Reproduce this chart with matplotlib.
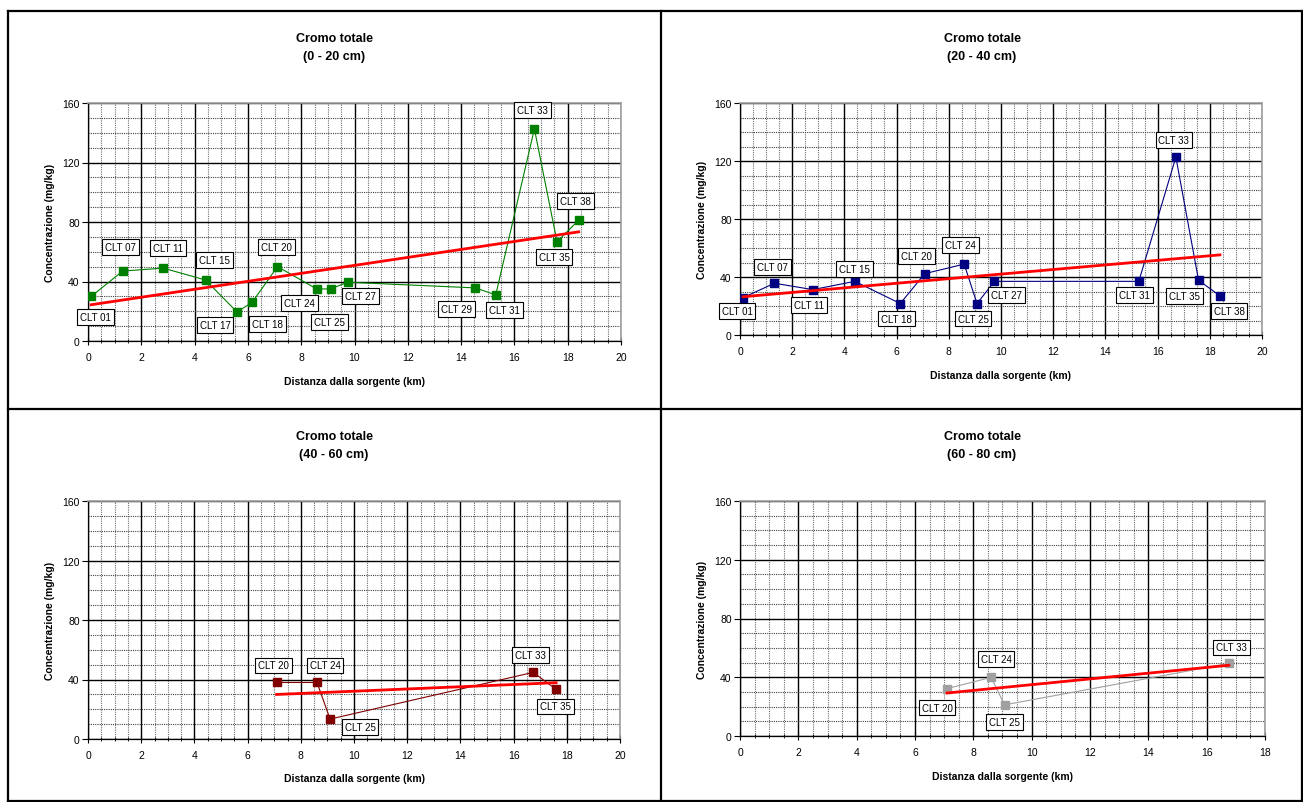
import numpy as np
import matplotlib
matplotlib.use("Agg")
import matplotlib.pyplot as plt
from matplotlib.ticker import MultipleLocator
from matplotlib.lines import Line2D

plt.rcParams['font.family'] = ['Liberation Sans', 'DejaVu Sans']

W, H = 1303, 803

# ---------------- data ----------------
titles = ["Cromo totale\n(0 - 20 cm)", "Cromo totale\n(20 - 40 cm)",
          "Cromo totale\n(40 - 60 cm)", "Cromo totale\n(60 - 80 cm)"]
xlabel = "Distanza dalla sorgente (km)"
ylabel = "Concentrazione (mg/kg)"

labels_0_20 = ["CLT 01", "CLT 07", "CLT 11", "CLT 15", "CLT 17", "CLT 18", "CLT 20",
               "CLT 24", "CLT 25", "CLT 27", "CLT 29", "CLT 31", "CLT 33", "CLT 35", "CLT 38"]
dist_0_20 = [0.12, 1.30, 2.82, 4.41, 5.59, 6.16, 7.11, 8.58, 9.10, 9.74, 14.54, 15.30, 16.75, 17.60, 18.41]
conc_0_20 = [30.0, 47.0, 49.0, 41.0, 19.5, 26.0, 50.0, 35.0, 35.0, 39.5, 35.7, 31.0, 142.6, 66.7, 81.2]

labels_20_40 = ["CLT 01", "CLT 07", "CLT 11", "CLT 15", "CLT 18", "CLT 20", "CLT 24",
                "CLT 25", "CLT 27", "CLT 31", "CLT 33", "CLT 35", "CLT 38"]
dist_20_40 = [0.12, 1.32, 2.79, 4.40, 6.14, 7.08, 8.59, 9.08, 9.75, 15.28, 16.70, 17.57, 18.39]
conc_20_40 = [25.8, 35.7, 31.3, 37.0, 21.7, 42.3, 48.9, 21.7, 37.0, 37.0, 122.7, 37.7, 27.0]

labels_40_60 = ["CLT 20", "CLT 24", "CLT 25", "CLT 33", "CLT 35"]
dist_40_60 = [7.09, 8.61, 9.10, 16.74, 17.60]
conc_40_60 = [38.0, 38.0, 13.4, 44.8, 33.3]

labels_60_80 = ["CLT 20", "CLT 24", "CLT 25", "CLT 33"]
dist_60_80 = [7.10, 8.61, 9.07, 16.76]
conc_60_80 = [32.3, 39.9, 21.2, 49.4]

# ---------------- layout / style ----------------
# axes boxes in pixels: left, right, top, bottom
boxes = [(88, 621, 104, 342), (740, 1262, 104, 336), (88, 620, 502, 740), (740, 1265, 502, 737)]
xmax = [20, 20, 20, 18]
colors = ["#008000", "#000080", "#800000", "#A0A0A0"]
title_y = [48, 48, 446, 446]
title_x = [334, 982, 334, 982]
xlabel_y = [382, 376, 779, 777]
ylabel_x = [50, 702, 50, 702]

offsets = [
    [(4, -21), (-2, 24), (5, 20), (9, 20), (-22, -13), (15, -22), (-1, 20), (-17, -14),
     (-1, -33), (13, -14), (-19, -21), (9, -15), (-2, 19), (-3, -15), (-3, 19)],
    [(-6, -13), (-2, 16), (-4, -15), (0, 12), (-4, -15), (-8, 18), (-4, 19), (-4, -15),
     (12, -14), (-4, -14), (-2, 17), (-14, -16), (9, -15)],
    [(-3, 17), (8, 17), (30, -8), (-3, 17), (-1, -17)],
    [(-10, -19), (5, 18), (0, -17), (3, 16)],
]

datasets = [(labels_0_20, dist_0_20, conc_0_20), (labels_20_40, dist_20_40, conc_20_40),
            (labels_40_60, dist_40_60, conc_40_60), (labels_60_80, dist_60_80, conc_60_80)]

fig = plt.figure(figsize=(W / 100, H / 100), dpi=100)
fig.patch.set_facecolor("white")


def fx(px):
    return px / W


def fy(py):
    return 1 - py / H


# panel borders
border_kw = dict(color="black", lw=1.6, transform=fig.transFigure)
fig.add_artist(Line2D([fx(8), fx(1302)], [fy(12), fy(12)], **border_kw))
fig.add_artist(Line2D([fx(8), fx(1302)], [fy(410), fy(410)], **border_kw))
fig.add_artist(Line2D([fx(8), fx(1302)], [fy(802), fy(802)], **border_kw))
fig.add_artist(Line2D([fx(8), fx(8)], [fy(12), fy(802)], **border_kw))
fig.add_artist(Line2D([fx(661), fx(661)], [fy(12), fy(802)], **border_kw))
fig.add_artist(Line2D([fx(1302), fx(1302)], [fy(12), fy(802)], **border_kw))

for i, (labs, xs, ys) in enumerate(datasets):
    l, r, t, b = boxes[i]
    ax = fig.add_axes([fx(l), fy(b), (r - l) / W, (b - t) / H])
    ax.set_xlim(0, xmax[i])
    ax.set_ylim(0, 160)
    ax.xaxis.set_major_locator(MultipleLocator(2))
    ax.xaxis.set_minor_locator(MultipleLocator(0.5))
    ax.yaxis.set_major_locator(MultipleLocator(40))
    ax.yaxis.set_minor_locator(MultipleLocator(10))
    ax.set_axisbelow(True)
    ax.grid(which="major", color="black", lw=1.0, ls="-")
    ax.xaxis.grid(which="minor", color="#707070", lw=0.8, ls=(0, (1, 1)))
    ax.yaxis.grid(which="minor", color="#404040", lw=0.8, ls=(0, (1, 1)))
    for s in ("top", "right"):
        ax.spines[s].set_color("#A0A0A0")
        ax.spines[s].set_linewidth(1.2)
    for s in ("left", "bottom"):
        ax.spines[s].set_color("black")
        ax.spines[s].set_linewidth(0.9)
    ax.tick_params(axis="x", which="major", direction="inout", length=6, width=0.8,
                   labelsize=7.5, pad=5)
    ax.tick_params(axis="x", which="minor", direction="inout", length=3, width=0.6)
    ax.tick_params(axis="y", which="major", direction="out", length=4, width=0.8,
                   labelsize=7.5, pad=2)
    ax.tick_params(axis="y", which="minor", length=0)

    ax.plot(xs, ys, color=colors[i], lw=0.8, marker="s", ms=5.5,
            mfc=colors[i], mec=colors[i], zorder=3)

    # linear trend line
    k, q = np.polyfit(xs, ys, 1)
    xt = np.array([min(xs), max(xs)])
    ax.plot(xt, k * xt + q, color="#FF0000", lw=2.0, zorder=4)

    for j, lab in enumerate(labs):
        ax.annotate(lab, (xs[j], ys[j]), xytext=offsets[i][j], textcoords="offset pixels",
                    ha="center", va="center", fontsize=7, zorder=5,
                    bbox=dict(boxstyle="square,pad=0.3", fc="white", ec="black", lw=0.8))

    fig.text(fx(title_x[i]), fy(title_y[i]), titles[i], ha="center", va="center",
             fontsize=9, fontweight="bold", linespacing=1.7)
    fig.text(fx((l + r) / 2), fy(xlabel_y[i]), xlabel, ha="center", va="center",
             fontsize=7.5, fontweight="bold")
    fig.text(fx(ylabel_x[i]), fy((t + b) / 2), ylabel, ha="center", va="center",
             rotation=90, fontsize=7.5, fontweight="bold")

fig.savefig("out.png", dpi=100, facecolor="white")
